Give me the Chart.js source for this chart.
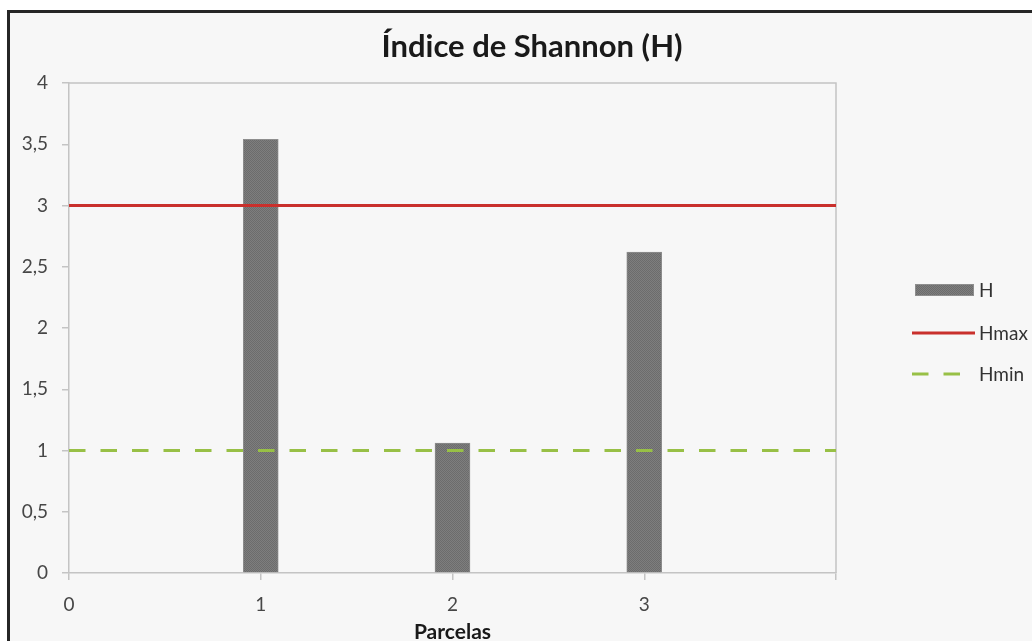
<!DOCTYPE html>
<html>
<head>
<meta charset="utf-8">
<script src="https://cdn.jsdelivr.net/npm/chart.js@4"></script>
<style>
  html, body { margin: 0; padding: 0; background: #ffffff; overflow: hidden; }
  canvas { display: block; }
</style>
</head>
<body>
<canvas id="chart" width="1032" height="641"></canvas>
<script>
// Shannon diversity index per plot, with reference levels
const parcelas = [1, 2, 3];
const shannonH = [3.54, 1.06, 2.62];
const lineX = [0, 4];
const hmax = [3, 3];
const hmin = [1, 1];
const xTickLabels = ['0', '1', '2', '3', ''];
const yTickLabels = ['0', '0,5', '1', '1,5', '2', '2,5', '3', '3,5', '4'];
const titleText = 'Índice de Shannon (H)';
const xTitle = 'Parcelas';

const RED = '#c9302c';
const GREEN = '#98c046';
const AXIS = '#c4c4c4';
const TEXT = '#474747';
const FONT = 'Lato, "Open Sans", sans-serif';

// fine stipple fill for the bars
function stipple() {
  const c = document.createElement('canvas');
  c.width = 2; c.height = 2;
  const g = c.getContext('2d');
  g.fillStyle = '#7e7e7e'; g.fillRect(0, 0, 2, 2);
  g.fillStyle = '#6c6c6c'; g.fillRect(0, 0, 1, 1); g.fillRect(1, 1, 1, 1);
  return g.createPattern(c, 'repeat');
}
const barFill = stipple();

// page frame and background
const framePlugin = {
  id: 'frame',
  beforeDraw(chart) {
    const ctx = chart.ctx;
    ctx.save();
    ctx.fillStyle = '#ffffff';
    ctx.fillRect(0, 0, chart.width, chart.height);
    ctx.fillStyle = '#f7f7f7';
    ctx.fillRect(8, 11, chart.width, chart.height);
    ctx.strokeStyle = '#262626';
    ctx.lineWidth = 3;
    ctx.beginPath();
    ctx.moveTo(8.5, chart.height + 2);
    ctx.lineTo(8.5, 11.5);
    ctx.lineTo(chart.width + 2, 11.5);
    ctx.stroke();
    ctx.restore();
  },
  beforeDatasetsDraw(chart) {
    const { ctx, chartArea: a } = chart;
    ctx.save();
    ctx.strokeStyle = AXIS;
    ctx.lineWidth = 1.5;
    ctx.beginPath();
    ctx.moveTo(a.left, a.top);
    ctx.lineTo(a.right, a.top);
    ctx.lineTo(a.right, a.bottom);
    ctx.stroke();
    ctx.restore();
  },
  afterDraw(chart) {
    const ctx = chart.ctx;
    ctx.save();
    // title
    ctx.fillStyle = '#1a1a1a';
    ctx.font = 'bold 31px ' + FONT;
    ctx.textAlign = 'center';
    ctx.textBaseline = 'alphabetic';
    ctx.fillText(titleText, 532, 57);

    // legend
    const ds = chart.data.datasets;
    const x0 = 912, x1 = 975, tx = 979;
    const rows = [290, 333, 374];
    ctx.font = '19px ' + FONT;
    ctx.textAlign = 'left';
    ctx.textBaseline = 'middle';
    ds.forEach((d, i) => {
      const y = rows[i];
      if (d.type === 'bar') {
        ctx.fillStyle = d.backgroundColor;
        ctx.fillRect(915, y - 6, 59, 12);
        ctx.strokeStyle = d.borderColor;
        ctx.lineWidth = 1;
        ctx.strokeRect(915.5, y - 5.5, 58, 11);
      } else {
        ctx.strokeStyle = d.borderColor;
        ctx.lineWidth = d.borderWidth;
        ctx.setLineDash(d.borderDash || []);
        ctx.beginPath();
        ctx.moveTo(x0, y);
        ctx.lineTo(d.borderDash ? 962 : x1, y);
        ctx.stroke();
        ctx.setLineDash([]);
      }
      ctx.fillStyle = '#333333';
      ctx.fillText(d.label, tx, y + 1);
    });
    ctx.restore();
  }
};

new Chart(document.getElementById('chart'), {
  type: 'bar',
  data: {
    datasets: [
      {
        type: 'bar',
        label: 'H',
        data: parcelas.map((p, i) => ({ x: p, y: shannonH[i] })),
        backgroundColor: barFill,
        borderColor: '#8e8e8e',
        borderWidth: 1,
        barThickness: 35,
        order: 3
      },
      {
        type: 'line',
        label: 'Hmax',
        data: lineX.map((x, i) => ({ x: x, y: hmax[i] })),
        borderColor: RED,
        borderWidth: 3,
        pointRadius: 0,
        fill: false,
        order: 2
      },
      {
        type: 'line',
        label: 'Hmin',
        data: lineX.map((x, i) => ({ x: x, y: hmin[i] })),
        borderColor: GREEN,
        borderWidth: 3,
        borderDash: [16.5, 15],
        pointRadius: 0,
        fill: false,
        order: 1
      }
    ]
  },
  options: {
    responsive: false,
    animation: false,
    events: [],
    layout: { padding: { top: 83, right: 196, bottom: 0, left: 0 } },
    plugins: {
      legend: { display: false },
      title: { display: false },
      tooltip: { enabled: false }
    },
    scales: {
      x: {
        type: 'linear',
        min: 0,
        max: 4,
        offset: false,
        afterFit: s => { s.height = 68; },
        ticks: {
          stepSize: 1,
          autoSkip: false,
          maxRotation: 0,
          padding: 13,
          color: TEXT,
          font: { family: FONT, size: 19 },
          callback: (v, i) => xTickLabels[i]
        },
        grid: { drawOnChartArea: false, drawTicks: true, tickLength: 7, color: AXIS, lineWidth: 1.5, offset: false },
        border: { color: AXIS, width: 1.5 },
        title: {
          display: true,
          text: xTitle,
          color: '#1a1a1a',
          font: { family: FONT, size: 21, weight: 'bold', lineHeight: 0.85 },
          padding: { top: 0, bottom: 0 }
        }
      },
      y: {
        type: 'linear',
        min: 0,
        max: 4,
        afterFit: s => { s.width = 69; },
        ticks: {
          stepSize: 0.5,
          padding: 14,
          color: TEXT,
          font: { family: FONT, size: 19 },
          callback: (v, i) => yTickLabels[i]
        },
        grid: { drawOnChartArea: false, drawTicks: true, tickLength: 7, color: AXIS, lineWidth: 1.5 },
        border: { color: AXIS, width: 1.5 }
      }
    }
  },
  plugins: [framePlugin]
});
</script>
</body>
</html>
